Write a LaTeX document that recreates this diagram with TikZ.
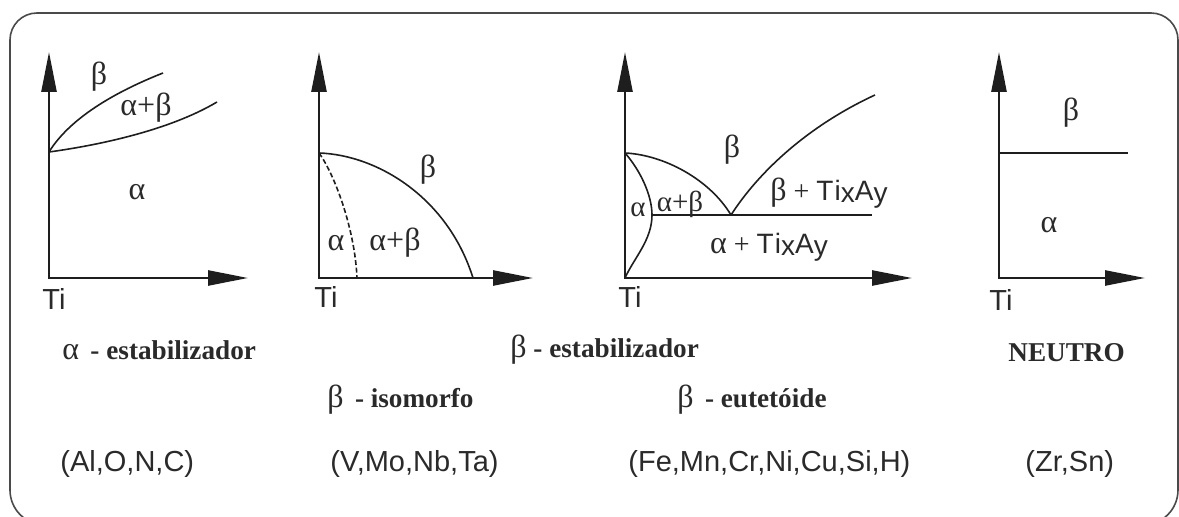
\documentclass[tikz,border=0pt]{standalone}
\usepackage{fontspec}
\setmainfont{Liberation Serif}
\newfontfamily\arial{Liberation Sans}
\usetikzlibrary{arrows.meta}
\definecolor{ink}{HTML}{1E1E1E}
\definecolor{framec}{HTML}{4A4A4A}
\definecolor{txt}{HTML}{2A2A2A}
\newcommand{\gk}[1]{{\fontsize{16}{16}\selectfont #1}}
\begin{document}
\begin{tikzpicture}[x=0.5pt,y=-0.5pt,
  axisline/.style={draw=ink,line width=1.3pt,line join=miter,
     {Triangle[length=20pt,width=7.5pt]}-{Triangle[length=20pt,width=7.5pt]}},
  phase/.style={draw=ink,line width=0.8pt},
  dashphase/.style={phase,dash pattern=on 2.5pt off 1.3pt},
  border/.style={draw=framec,line width=0.8pt},
  gr/.style={inner sep=0pt,text=txt,font=\fontsize{16}{18}\selectfont},
  tilab/.style={inner sep=0pt,text=txt,font=\arial\fontsize{14.5}{16}\selectfont},
  lab/.style={inner sep=0pt,anchor=base west,text=txt,font=\fontsize{13.6}{15}\selectfont},
  elem/.style={inner sep=0pt,anchor=base west,text=txt,font=\arial\fontsize{14.5}{16}\selectfont},
  phasetxt/.style={inner sep=0pt,text=txt,font=\fontsize{14}{16}\selectfont}
]
\useasboundingbox (0,0) rectangle (1179,517);
% frame
\draw[border,rounded corners=17.5pt] (600,525) -- (10,525) -- (10,200);
\draw[border,rounded corners=13.5pt] (10,210) -- (10,13) -- (1178,13) -- (1178,210);
\draw[border,rounded corners=17.5pt] (1178,200) -- (1178,525) -- (600,525);

% ---------- diagram 1 : alpha stabilizer
\coordinate (y1) at (49,52);
\coordinate (o1) at (49,278);
\coordinate (x1) at (248,278);
\coordinate (p1) at (49,152);
\coordinate (u1) at (163,73);
\coordinate (l1) at (217,102);
\draw[axisline] (y1) -- (o1) -- (x1);
\draw[phase] (p1) .. controls (70,118) and (115,92) .. (u1);
\draw[phase] (p1) .. controls (100,145) and (170,130) .. (l1);
\node[gr] (b1) at (99,77) {β};
\node[gr] (ab1) at (146,108) {α+β};
\node[gr] (a1) at (137,192) {α};
\node[tilab] (ti1) at (54,299) {Ti};

% ---------- diagram 2 : beta isomorphous
\coordinate (y2) at (319,52);
\coordinate (o2) at (319,278);
\coordinate (x2) at (533,278);
\coordinate (p2) at (319,153);
\coordinate (b2e) at (473,278);
\coordinate (d2e) at (357,278);
\draw[axisline] (y2) -- (o2) -- (x2);
\draw[phase] (p2) .. controls (378,155) and (448,198) .. (b2e);
\draw[dashphase] (p2) .. controls (335,175) and (355,230) .. (d2e);
\node[gr] (b2) at (428,170) {β};
\node[gr] (a2) at (336,243) {α};
\node[gr] (ab2) at (395,243) {α+β};
\node[tilab] (ti2) at (326,297) {Ti};

% ---------- diagram 3 : beta eutectoid
\coordinate (y3) at (625,52);
\coordinate (o3) at (625,278);
\coordinate (x3) at (912,278);
\coordinate (p3) at (625,153);
\coordinate (e3) at (731,215);
\coordinate (j3) at (652,215);
\coordinate (h3) at (872,215);
\coordinate (r3) at (875,95);
\draw[axisline] (y3) -- (o3) -- (x3);
\draw[phase] (p3) .. controls (665,155) and (710,180) .. (e3);
\draw[phase] (p3) .. controls (640,170) and (652,195) .. (j3) .. controls (652,240) and (634,258) .. (o3);
\draw[phase] (j3) -- (h3);
\draw[phase] (e3) .. controls (760,170) and (810,125) .. (r3);
\node[gr] (b3) at (732,150) {β};
\node[gr,font=\fontsize{14.5}{16}\selectfont] (ab3) at (680,204) {α+β};
\node[gr,font=\fontsize{14.5}{16}\selectfont] (a3) at (638,210) {α};
\node[phasetxt] (bt3) at (829,193) {\gk{β} + {\arial\addfontfeature{LetterSpace=8}Ti\raisebox{-1pt}{x}A\raisebox{-1pt}{y}}};
\node[phasetxt] (at3) at (769,247) {\gk{α} + {\arial\addfontfeature{LetterSpace=8}Ti\raisebox{-1pt}{x}A\raisebox{-1pt}{y}}};
\node[tilab] (ti3) at (630,297) {Ti};

% ---------- diagram 4 : neutral
\coordinate (y4) at (999,52);
\coordinate (o4) at (999,278);
\coordinate (x4) at (1145,278);
\coordinate (p4) at (999,153);
\coordinate (h4) at (1128,153);
\draw[axisline] (y4) -- (o4) -- (x4);
\draw[phase] (p4) -- (h4);
\node[gr] (b4) at (1071,113) {β};
\node[gr] (a4) at (1049,225) {α};
\node[tilab] (ti4) at (1001,300) {Ti};

% ---------- captions
\node[lab] (c1) at (62,360) {\gk{α}\, \textbf{- estabilizador}};
\node[lab] (c2) at (510,358) {\gk{β} \textbf{- estabilizador}};
\node[lab] (c3) at (327,408) {\gk{β}\, \textbf{- isomorfo}};
\node[lab] (c4) at (677,408) {\gk{β}\, \textbf{- eutetóide}};
\node[lab] (c5) at (1008,362) {\textbf{NEUTRO}};

\node[elem] (e1) at (60,472) {(Al,O,N,C)};
\node[elem] (e2) at (330,472) {(V,Mo,Nb,Ta)};
\node[elem] (e3n) at (628,472) {(Fe,Mn,Cr,Ni,Cu,Si,H)};
\node[elem] (e4) at (1025,472) {(Zr,Sn)};
\end{tikzpicture}
\end{document}
